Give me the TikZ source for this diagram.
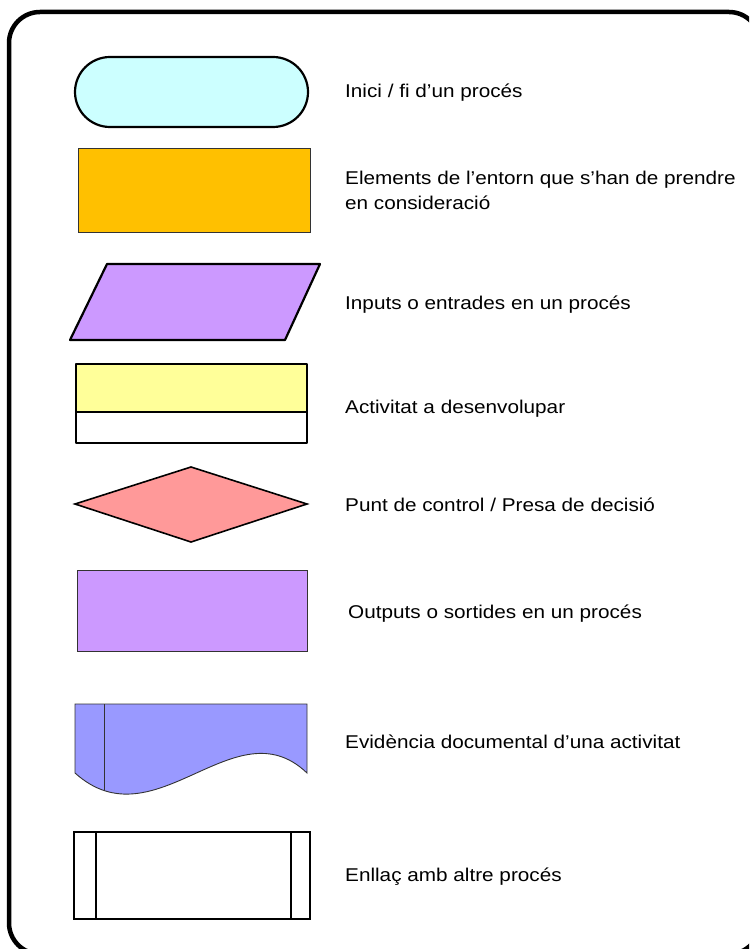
\documentclass[tikz,border=0pt]{standalone}
\usepackage{fontspec}
\setmainfont[FakeStretch=1.12]{Liberation Sans}
\definecolor{cterm}{HTML}{CCFFFF}
\definecolor{corange}{HTML}{FFC000}
\definecolor{cpurple}{HTML}{CC99FF}
\definecolor{cyellow}{HTML}{FFFF99}
\definecolor{cpink}{HTML}{FF9999}
\definecolor{cblue}{HTML}{9999FF}
\begin{document}
\begin{tikzpicture}[x=1pt,y=-1pt,
  lbl/.style={anchor=base west,inner sep=0pt,font=\fontsize{18.5}{25.5}\selectfont,align=left},
  thick2/.style={draw=black,line width=2.2pt,line join=round},
  thin1/.style={draw=black!80,line width=0.9pt}]
\path[use as bounding box,clip] (0,0) rectangle (749,949);
% frame
\draw[line width=4.5pt,rounded corners=31pt] (9,12) rectangle (760,954);
% 1 terminal
\draw[thick2,fill=cterm,rounded corners=35pt] (75,57) rectangle (308,127);
\node[lbl] (t1) at (345,98) {Inici / fi d’un procés};
% 2 orange
\draw[thin1,fill=corange] (78,148) rectangle (310,232);
\node[lbl] (t2) at (345,210) {Elements de l’entorn que s’han de prendre\\en consideració};
% 3 parallelogram
\draw[thick2,fill=cpurple] (107,264) -- (320,264) -- (285,340) -- (70,340) -- cycle;
\node[lbl] (t3) at (345,309) {Inputs o entrades en un procés};
% 4 activity
\draw[thick2,fill=cyellow] (76,364) rectangle (307,412);
\draw[thick2,fill=white] (76,412) rectangle (307,443);
\node[lbl] (t4) at (345,413) {Activitat a desenvolupar};
% 5 diamond
\draw[draw=black,line width=1.6pt,fill=cpink] (75,504) -- (191,467) -- (307,504) -- (191,542) -- cycle;
\node[lbl] (t5) at (345,511) {Punt de control / Presa de decisió};
% 6 outputs
\draw[thin1,fill=cpurple] (77,570) rectangle (307,651);
\node[lbl] (t6) at (348,618) {Outputs o sortides en un procés};
% 7 document
\draw[thin1,fill=cblue] (75,773) -- (75,704) -- (307,704) -- (307,773)
  .. controls (235,704) and (155,845) .. (75,773) -- cycle;
\coordinate (d1) at (104,704);
\coordinate (d2) at (104,791);
\draw[thin1] (d1) -- (d2);
\node[lbl] (t7) at (345,748) {Evidència documental d’una activitat};
% 8 link
\draw[draw=black,line width=1.6pt,fill=white] (74,832) rectangle (310,919);
\draw[draw=black,line width=1.6pt] (96,832) -- (96,919) (291,832) -- (291,919);
\node[lbl] (t8) at (345,881) {Enllaç amb altre procés};
\end{tikzpicture}
\end{document}
